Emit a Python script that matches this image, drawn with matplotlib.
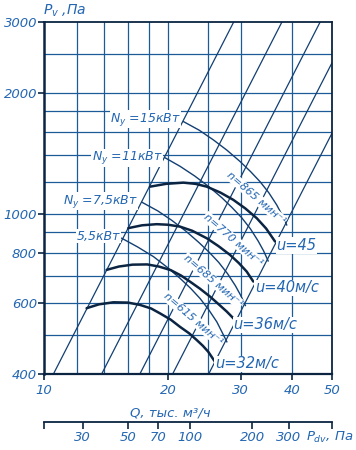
import numpy as np
import matplotlib

matplotlib.use("Agg")
import matplotlib.pyplot as plt
from matplotlib.ticker import NullLocator, FixedLocator, FixedFormatter

plt.rcParams["font.family"] = ["DejaVu Sans"]
plt.rcParams["mathtext.fontset"] = "dejavusans"
plt.rcParams["mathtext.default"] = "it"

# --- axes, grid, scales ---
q_ticks = [10, 20, 30, 40, 50]
p_ticks = [400, 600, 800, 1000, 2000, 3000]
q_grid = [12, 14, 16, 18, 20, 25, 30, 40]
p_grid = [500, 600, 700, 800, 900, 1000, 1200, 1400, 1600, 1800, 2000, 2500]
pdv_ticks = [30, 50, 70, 100, 200, 300]
pdv_per_q2 = 0.195          # Pdv = 0.195 * Q^2 (bottom scale)

# constant-resistance lines P = k * Q^2
resist_k = [3.6, 2.1, 1.37, 0.95, 0.635]

# --- fan curves, Q in thousand m3/h, P in Pa ---
speeds = [615, 685, 770, 865]
q_615 = [12.69, 13.6, 14.73, 16.0, 17.1, 18.2, 19.12, 20.3, 21.38, 22.5, 23.47, 24.3, 25.05, 26.0]
p_615 = [583, 596, 603, 602, 594, 582, 566, 546, 524, 505, 486, 470, 454, 429]
q_685 = [14.19, 15.2, 16.4, 17.8, 19.0, 20.3, 21.5, 22.6, 23.9, 25.29, 26.6, 27.76, 29.08]
p_685 = [726, 740, 748, 749, 740, 725, 703, 679, 652, 623, 595, 572, 545]
q_770 = [16.02, 17.3, 18.77, 20.0, 21.38, 22.9, 24.83, 26.5, 28.28, 29.7, 31.04, 32.21]
p_770 = [922, 937, 943, 940, 930, 908, 870, 832, 791, 755, 719, 679]
q_865 = [18.09, 19.8, 21.79, 23.3, 24.83, 26.8, 28.8, 30.8, 32.83, 34.6, 36.37]
p_865 = [1169, 1188, 1196, 1188, 1169, 1130, 1084, 1032, 976, 920, 854]

# --- motor power curves ---
powers = ["5,5", "7,5", "11", "15"]
q_n55 = [15.44, 16.9, 18.44, 19.9, 21.41, 22.7, 23.93, 25.1, 26.27, 27.0, 27.78]
p_n55 = [870, 827, 783, 737, 691, 653, 616, 578, 539, 510, 481]
q_n75 = [17.29, 18.9, 20.45, 22.1, 23.74, 25.2, 26.54, 27.9, 29.14, 30.0, 30.81]
p_n75 = [1069, 1017, 963, 906, 850, 802, 758, 710, 663, 628, 592]
q_n11 = [19.65, 21.4, 23.2, 25.1, 27.0, 28.6, 30.2, 31.7, 33.1, 34.1, 35.0]
p_n11 = [1380, 1313, 1243, 1170, 1098, 1037, 978, 918, 856, 810, 764]
q_n15 = [21.79, 23.8, 25.76, 27.8, 29.91, 31.7, 33.44, 35.1, 36.71, 37.8, 38.82]
p_n15 = [1697, 1615, 1528, 1440, 1350, 1275, 1203, 1130, 1053, 995, 939]

# label anchors (Q, P)
tip_labels = ["u=32м/с", "u=36м/с", "u=40м/с", "u=45"]
tip_q = [26.0, 28.8, 32.5, 36.6]
tip_p = [424, 530, 655, 835]
speed_q = [23.0, 25.7, 28.8, 32.7]
speed_p = [548, 682, 862, 1096]
power_labels = ["5,5кВт", "$N_y$ =7,5кВт", "$N_y$ =11кВт", "$N_y$ =15кВт"]
power_q = [15.3, 16.9, 19.4, 21.5]
power_p = [880, 1075, 1380, 1720]

GRID = "#1d5a98"
LINE = "#123f72"
THICK = "#0b2442"
TEXT = "#2366b2"

W, H = 356, 450
fig = plt.figure(figsize=(W / 100, H / 100), dpi=100)
ax = fig.add_axes([44 / W, 1 - 374 / H, 288 / W, 352 / H])
ax.set_xscale("log")
ax.set_yscale("log")
ax.set_xlim(10, 50)
ax.set_ylim(400, 3000)

for q in q_grid:
    ax.axvline(q, color=GRID, lw=0.9, zorder=1)
for p in p_grid:
    ax.axhline(p, color=GRID, lw=0.9, zorder=1)

qq = np.array([10.0, 50.0])
for k in resist_k:
    ax.plot(qq, k * qq ** 2, color=LINE, lw=0.9, zorder=2)

for qs, ps in [(q_n55, p_n55), (q_n75, p_n75), (q_n11, p_n11), (q_n15, p_n15)]:
    ax.plot(qs, ps, color=LINE, lw=1.0, zorder=3)

for qs, ps in [(q_615, p_615), (q_685, p_685), (q_770, p_770), (q_865, p_865)]:
    ax.plot(qs, ps, color=THICK, lw=1.8, zorder=4, solid_capstyle="round")

box = dict(facecolor="white", edgecolor="none", pad=0.4)
for lab, q, p in zip(power_labels, power_q, power_p):
    ax.text(q, p, lab, ha="right", va="center", fontsize=9, style="italic",
            color=TEXT, bbox=box, zorder=6)
for n, q, p in zip(speeds, speed_q, speed_p):
    ax.text(q, p, f"n={n} мин⁻¹", ha="center", va="center", fontsize=8,
            style="italic", color=TEXT, rotation=-41, rotation_mode="anchor",
            bbox=box, zorder=3.5)
for lab, q, p in zip(tip_labels, tip_q, tip_p):
    ax.text(q, p, lab, ha="left", va="center", fontsize=10.5, style="italic",
            color=TEXT, bbox=box, zorder=6)

for s in ax.spines.values():
    s.set_color(THICK)
    s.set_linewidth(1.3)
ax.spines["left"].set_linewidth(1.8)
ax.spines["bottom"].set_linewidth(1.6)

ax.xaxis.set_major_locator(FixedLocator(q_ticks))
ax.xaxis.set_major_formatter(FixedFormatter([str(v) for v in q_ticks]))
ax.xaxis.set_minor_locator(NullLocator())
ax.yaxis.set_major_locator(FixedLocator(p_ticks))
ax.yaxis.set_major_formatter(FixedFormatter([str(v) for v in p_ticks]))
ax.yaxis.set_minor_locator(NullLocator())
ax.tick_params(axis="x", direction="out", length=4, width=1.2, color=THICK,
               labelcolor=TEXT, labelsize=9.5, pad=3)
ax.tick_params(axis="y", direction="out", length=4, width=1.2, color=THICK,
               labelcolor=TEXT, labelsize=9.5, pad=1)
for lab in ax.get_xticklabels() + ax.get_yticklabels():
    lab.set_style("italic")

# bottom dynamic-pressure scale
sec = ax.secondary_xaxis(
    -(421.7 - 374) / 352,
    functions=(lambda q: pdv_per_q2 * np.asarray(q) ** 2,
               lambda p: np.sqrt(np.abs(p) / pdv_per_q2)),
)
end_lo, end_hi = pdv_per_q2 * 10 ** 2 * 1.001, pdv_per_q2 * 50 ** 2 * 0.999
sec.xaxis.set_major_locator(FixedLocator([end_lo] + pdv_ticks + [end_hi]))
sec.xaxis.set_major_formatter(FixedFormatter([""] + [str(v) for v in pdv_ticks] + [""]))
sec.xaxis.set_minor_locator(NullLocator())
sec.tick_params(axis="x", direction="out", length=5, width=1.2, color=THICK,
                labelcolor=TEXT, labelsize=9.5, pad=2)
for lab in sec.get_xticklabels():
    lab.set_style("italic")
sec.spines["bottom"].set_color(THICK)
sec.spines["bottom"].set_linewidth(1.3)

fig.text(43 / W, 1 - 11 / H, "$P_v$ ,Па", ha="left", va="center", fontsize=10,
         style="italic", color=TEXT)
fig.text(170 / W, 1 - 413 / H, "Q, тыс. м³/ч", ha="center", va="center",
         fontsize=9.5, style="italic", color=TEXT)
fig.text(306 / W, 1 - 437 / H, "$P_{dv}$, Па", ha="left", va="center",
         fontsize=9.5, style="italic", color=TEXT)

fig.savefig("out.png", dpi=100, facecolor="white")
